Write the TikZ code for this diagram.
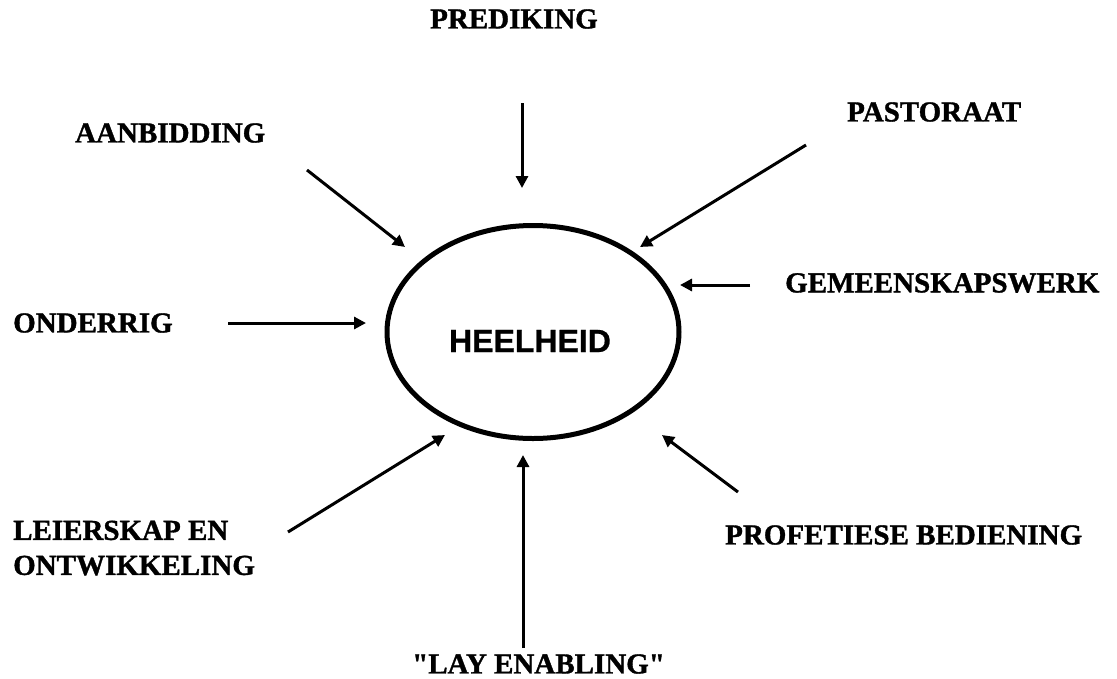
\documentclass[tikz,border=0pt]{standalone}
\usepackage{fontspec}
\setmainfont[BoldFeatures={FakeBold=1.2}]{Liberation Serif}
\setsansfont[BoldFeatures={FakeBold=0.8}]{Liberation Sans}
\usetikzlibrary{shapes,arrows.meta,positioning,calc}

\begin{document}
\begin{tikzpicture}[x=1pt, y=-1pt,
  lbl/.style={font=\fontsize{29}{35}\selectfont\bfseries, inner sep=0pt, anchor=west, align=left},
  pijl/.style={line width=3pt, -{Triangle[length=12pt, width=12pt]}}]
\useasboundingbox (0,0) rectangle (1117,678);

% Central ellipse
\node[draw, ellipse, line width=5pt, minimum width=292pt, minimum height=213pt, inner sep=0pt] (heel) at (533,332) {};
\node[font=\fontsize{32}{36}\selectfont\sffamily\bfseries, inner sep=0pt] (heeltxt) at (530,341) {HEELHEID};

% Labels round the ellipse
\node[lbl] (prediking) at (430,19) {PREDIKING};
\node[lbl] (aanbidding) at (75,133) {AANBIDDING};
\node[lbl] (pastoraat) at (847,112) {PASTORAAT};
\node[lbl] (gemeenskap) at (785,283) {GEMEENSKAPSWERK};
\node[lbl] (onderrig) at (13,323) {ONDERRIG};
\node[lbl] (leierskap) at (13,548) {LEIERSKAP EN\\ONTWIKKELING};
\node[lbl] (profeties) at (725,535) {PROFETIESE BEDIENING};
\node[lbl] (lay) at (412,664) {\textquotedbl LAY ENABLING\textquotedbl};

% Arrow ends
\coordinate (pred-s) at (522,103);   \coordinate (pred-e) at (522,188);
\coordinate (aanb-s) at (307,170);   \coordinate (aanb-e) at (405,247);
\coordinate (past-s) at (806,145);   \coordinate (past-e) at (640,247);
\coordinate (gem-s) at (750,285);    \coordinate (gem-e) at (680,285);
\coordinate (ond-s) at (228,323);    \coordinate (ond-e) at (366,323);
\coordinate (leier-s) at (288,532);  \coordinate (leier-e) at (445,435);
\coordinate (prof-s) at (738,492);   \coordinate (prof-e) at (662,435);
\coordinate (lay-s) at (523,648);    \coordinate (lay-e) at (523,455);

% Arrows into the ellipse
\draw[pijl] (pred-s) -- (pred-e);
\draw[pijl] (aanb-s) -- (aanb-e);
\draw[pijl] (past-s) -- (past-e);
\draw[pijl] (gem-s) -- (gem-e);
\draw[pijl] (ond-s) -- (ond-e);
\draw[pijl] (leier-s) -- (leier-e);
\draw[pijl] (prof-s) -- (prof-e);
\draw[pijl] (lay-s) -- (lay-e);
\end{tikzpicture}
\end{document}
